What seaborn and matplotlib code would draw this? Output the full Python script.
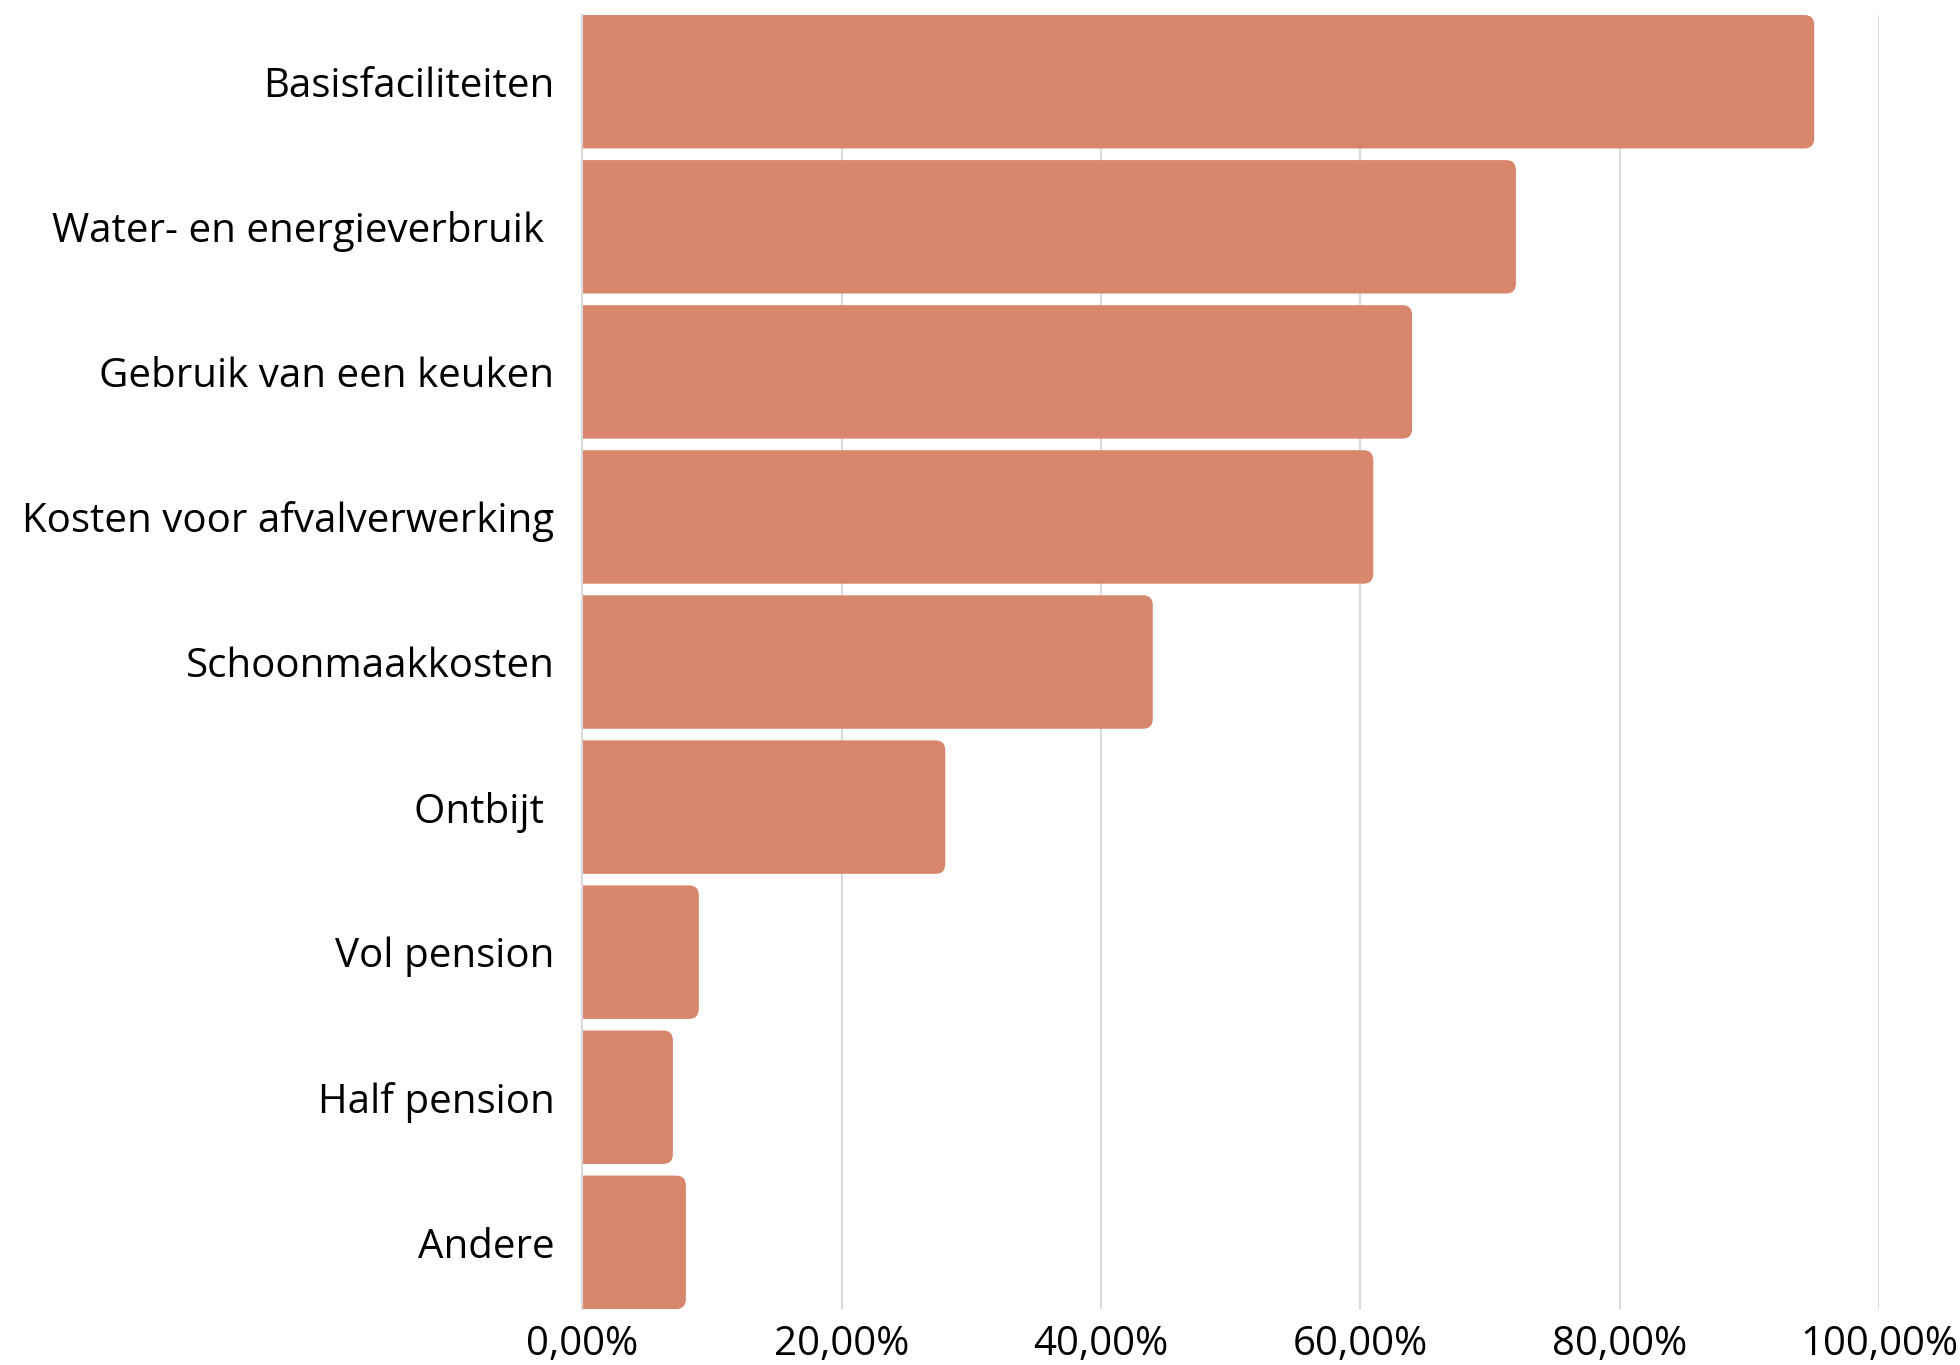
import matplotlib
matplotlib.use("Agg")
import matplotlib.pyplot as plt
import seaborn as sns
import pandas as pd
from matplotlib.patches import FancyBboxPatch
from matplotlib.ticker import FuncFormatter

categories = ["Basisfaciliteiten", "Water- en energieverbruik ", "Gebruik van een keuken",
              "Kosten voor afvalverwerking", "Schoonmaakkosten", "Ontbijt ",
              "Vol pension", "Half pension", "Andere"]
values = [95, 72, 64, 61, 44, 28, 9, 7, 8]

df = pd.DataFrame({"cat": categories, "val": values})

sns.set_theme(style="white")
plt.rcParams['font.family'] = ['Open Sans', 'DejaVu Sans']

bar_color = "#D8876C"
fig = plt.figure(figsize=(19.6, 13.65), dpi=100)
ax = fig.add_axes([0.297, 0.041, 0.6617, 0.948])

sns.barplot(data=df, x="val", y="cat", color=bar_color, width=0.92, ax=ax, saturation=1)

# swap plain bars for rounded ones
for p in list(ax.patches):
    x0, y0 = p.get_x(), p.get_y()
    w, h = p.get_width(), p.get_height()
    p.remove()
    box = FancyBboxPatch((x0 - 2, y0), w + 2, h,
                         boxstyle="round,pad=0,rounding_size=0.75",
                         mutation_aspect=0.09, facecolor=bar_color,
                         edgecolor="none", zorder=2)
    ax.add_patch(box)

ax.set_xlim(0, 100)
ax.set_ylim(8.46, -0.46)
ax.set_xticks([0, 20, 40, 60, 80, 100])
ax.xaxis.set_major_formatter(FuncFormatter(lambda v, _: f"{v:.2f}".replace(".", ",") + "%"))
ax.grid(axis="x", color="#d9d9d9", linewidth=1.5, zorder=0)
ax.set_axisbelow(True)
ax.set_xlabel("")
ax.set_ylabel("")
for s in ["top", "right", "bottom"]:
    ax.spines[s].set_visible(False)
ax.spines["left"].set_color("#d9d9d9")
ax.spines["left"].set_linewidth(1.5)
ax.tick_params(axis="y", length=0, pad=20, labelsize=29, labelcolor="#000000")
ax.tick_params(axis="x", length=0, pad=11, labelsize=29, labelcolor="#000000")

fig.savefig("out.png", dpi=100)
